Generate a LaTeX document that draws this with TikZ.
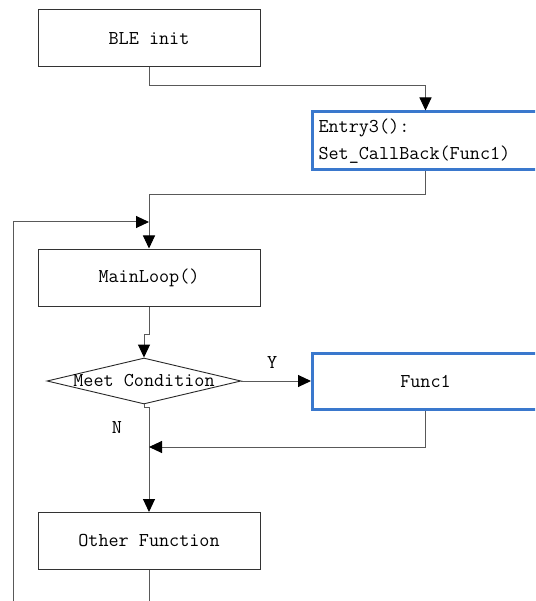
\documentclass[tikz,border=0pt]{standalone}
\usetikzlibrary{arrows.meta,shapes.geometric}
\definecolor{callblue}{RGB}{58,120,205}
\tikzset{
	box/.style={draw=black!80, line width=1pt, minimum width=222pt, minimum height=57pt, inner sep=0pt},
	callbox/.style={draw=callblue, line width=3pt, minimum width=226pt, inner sep=0pt},
	decision/.style={diamond, draw=black!85, line width=0.9pt, minimum width=194pt, minimum height=46pt, inner sep=0pt},
	flow/.style={draw=black!65, line width=1pt, -{Triangle[length=13pt,width=12pt,color=black]}},
	plain/.style={draw=black!65, line width=1pt},
}

\begin{document}
\begin{tikzpicture}[x=1pt, y=-1pt, font=\ttfamily\fontsize{19.6}{27}\selectfont]
		%%%%% START %%%%%
		\useasboundingbox (0, 0) rectangle (535, 601);
		\clip (0, 0) rectangle (535, 601);
		
		\node[box] (init) at (149, 38.5) {BLE init};
		\node[callbox, minimum height=58pt, anchor=west, align=left, text width=214pt] (entry) at (311, 141) {Entry3():\\Set\_CallBack(Func1)};
		\node[box] (main) at (149, 277.5) {MainLoop()};
		\node[decision, label={center:Meet Condition}] (cond) at (144, 381) {};
		\node[callbox, minimum height=56pt, anchor=west] (func) at (311, 381) {Func1};
		\node[box] (other) at (149, 541) {Other Function};
		
		\coordinate (loopbot) at (13, 601);
		\coordinate (loopin) at (149, 222);
		\coordinate (join) at (149, 447);
		\node (no) at (117, 428) {N};
		
		\draw[flow] (init.south) -- ++(0, 18) -| (entry.north);
		\draw[flow] (entry.south) -- ++(0, 23) -| (main.north);
		\draw[flow] (loopbot) |- (loopin);
		\draw[flow] (main.south) -- ++(0, 28) -| (cond.north);
		\draw[flow] (cond.east) -- (func.west) node[midway, yshift=18pt, xshift=-4pt] (yes) {Y};
		\draw[flow] (cond.south) -- ++(0, 3) -| (other.north);
		\draw[flow] (func.south) |- (join);
		\draw[plain] (other.south) -- ++(0, 32);
		
		%%%%% END %%%%%
	\end{tikzpicture}
\end{document}
